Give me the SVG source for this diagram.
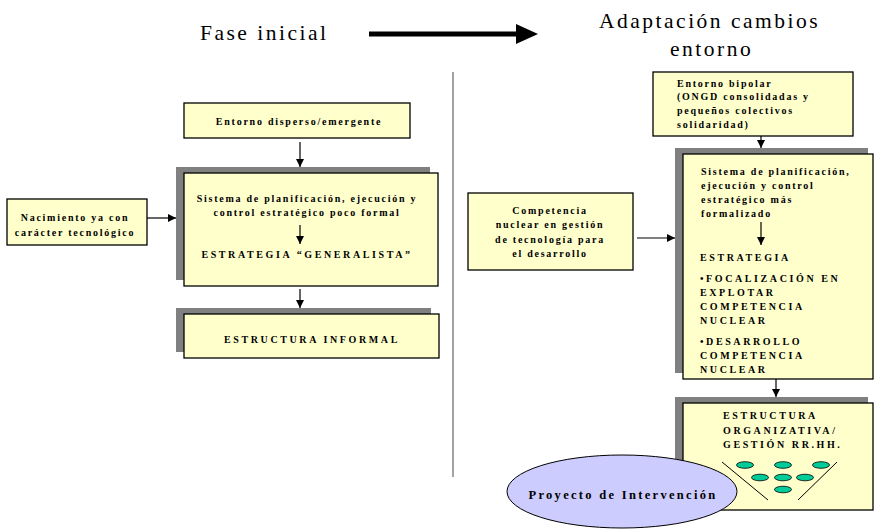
<svg xmlns="http://www.w3.org/2000/svg" width="874" height="529" viewBox="0 0 874 529">
<defs>
<style>
.box{fill:#ffffcc;stroke:#000;stroke-width:1.3}
.sh{fill:#808080}
.c{stroke:#000;stroke-width:1.2;fill:none}
.t{font-family:"Liberation Serif","Times New Roman",serif;font-weight:bold;font-size:10px;fill:#000;letter-spacing:1.75px}
.cap{letter-spacing:2.6px}
.m{text-anchor:middle}
.title{font-family:"Liberation Serif","Times New Roman",serif;font-size:21.5px;fill:#000;letter-spacing:2.5px}
.g{fill:#00cc99;stroke:#000;stroke-width:0.8}
</style>
<marker id="ah" viewBox="0 0 10 10" refX="10" refY="5" markerWidth="8" markerHeight="8" markerUnits="userSpaceOnUse" orient="auto">
<path d="M0,0 L10,5 L0,10 z" fill="#000"/>
</marker>
</defs>

<g id="titles">
<text class="title" x="200" y="40">Fase inicial</text>
<text class="title" x="599" y="28">Adaptación cambios</text>
<text class="title" x="670" y="56">entorno</text>
<line x1="369" y1="34" x2="517" y2="34" stroke="#000" stroke-width="5"/>
<polygon points="516,24 538,34 516,44" fill="#000"/>
<line x1="453" y1="72" x2="453" y2="477" stroke="#666" stroke-width="1.2"/>
</g>

<g id="entorno-disperso">
<rect class="box" x="184" y="103" width="226" height="35"/>
<text class="t m" x="299" y="125">Entorno disperso/emergente</text>
</g>

<g id="nacimiento">
<rect class="box" x="7" y="199" width="140" height="46"/>
<text class="t m" x="75" y="221">Nacimiento ya con</text>
<text class="t m" x="75" y="236">carácter tecnológico</text>
</g>

<g id="sistema-izq">
<rect class="sh" x="176" y="167" width="254" height="113"/>
<rect class="box" x="184" y="173" width="254" height="113"/>
<text class="t m" x="307" y="202">Sistema de planificación, ejecución y</text>
<text class="t m" x="307" y="216">control estratégico poco formal</text>
<text class="t cap m" x="307" y="258">ESTRATEGIA “GENERALISTA”</text>
</g>

<g id="estructura-informal">
<rect class="sh" x="176" y="308" width="255" height="44"/>
<rect class="box" x="184" y="314" width="255" height="44"/>
<text class="t cap m" x="312" y="343">ESTRUCTURA INFORMAL</text>
</g>

<g id="entorno-bipolar">
<rect class="box" x="653" y="72" width="200" height="64"/>
<text class="t" x="677" y="87">Entorno bipolar</text>
<text class="t" x="677" y="100">(ONGD consolidadas y</text>
<text class="t" x="677" y="114">pequeños colectivos</text>
<text class="t" x="677" y="128">solidaridad)</text>
</g>

<g id="competencia">
<rect class="box" x="468" y="193" width="165" height="77"/>
<text class="t m" x="550" y="214">Competencia</text>
<text class="t m" x="550" y="228">nuclear en gestión</text>
<text class="t m" x="550" y="243">de tecnología para</text>
<text class="t m" x="550" y="257">el desarrollo</text>
</g>

<g id="sistema-der">
<rect class="sh" x="675" y="148" width="193" height="225"/>
<rect class="box" x="683" y="154" width="190" height="225"/>
<text class="t" x="701" y="175">Sistema de planificación,</text>
<text class="t" x="701" y="189">ejecución y control</text>
<text class="t" x="701" y="203">estratégico más</text>
<text class="t" x="701" y="217">formalizado</text>
<text class="t cap" x="700" y="261">ESTRATEGIA</text>
<text class="t cap" x="700" y="282">•FOCALIZACIÓN EN</text>
<text class="t cap" x="700" y="296">EXPLOTAR</text>
<text class="t cap" x="700" y="310">COMPETENCIA</text>
<text class="t cap" x="700" y="324">NUCLEAR</text>
<text class="t cap" x="700" y="345">•DESARROLLO</text>
<text class="t cap" x="700" y="359">COMPETENCIA</text>
<text class="t cap" x="700" y="373">NUCLEAR</text>
</g>

<g id="estructura-organizativa">
<rect class="sh" x="675" y="397" width="193" height="107"/>
<rect class="box" x="683" y="403" width="190" height="107"/>
<text class="t cap" x="723" y="419">ESTRUCTURA</text>
<text class="t cap" x="723" y="434">ORGANIZATIVA/</text>
<text class="t cap" x="723" y="448">GESTIÓN RR.HH.</text>
<line x1="722" y1="462" x2="768" y2="500" stroke="#000" stroke-width="1"/>
<line x1="837" y1="462" x2="798" y2="500" stroke="#000" stroke-width="1"/>
<ellipse class="g" cx="745" cy="465" rx="8.5" ry="3.3"/>
<ellipse class="g" cx="783" cy="465" rx="8.5" ry="3.3"/>
<ellipse class="g" cx="821" cy="465" rx="8.5" ry="3.3"/>
<ellipse class="g" cx="760" cy="477.5" rx="8.5" ry="3.3"/>
<ellipse class="g" cx="783" cy="477.5" rx="8.5" ry="3.3"/>
<ellipse class="g" cx="805" cy="477.5" rx="8.5" ry="3.3"/>
<ellipse class="g" cx="783" cy="489.5" rx="8.5" ry="3.3"/>
</g>

<g id="proyecto">
<ellipse cx="622" cy="491.5" rx="115" ry="36.5" fill="#ccccff" stroke="#000" stroke-width="1"/>
<text class="t m" x="623" y="499" style="font-size:12.5px;letter-spacing:2.3px">Proyecto de Intervención</text>
</g>

<g id="connectors">
<line class="c" x1="300" y1="142" x2="300" y2="167" marker-end="url(#ah)"/>
<line class="c" x1="300" y1="225" x2="300" y2="244" marker-end="url(#ah)"/>
<line class="c" x1="300" y1="289" x2="300" y2="308" marker-end="url(#ah)"/>
<line class="c" x1="147" y1="218" x2="176" y2="218" marker-end="url(#ah)"/>
<line class="c" x1="761" y1="136" x2="761" y2="148" marker-end="url(#ah)"/>
<line class="c" x1="637" y1="238" x2="675" y2="238" marker-end="url(#ah)"/>
<line class="c" x1="761" y1="222" x2="761" y2="245" marker-end="url(#ah)"/>
<line class="c" x1="776" y1="379" x2="776" y2="397" marker-end="url(#ah)"/>
</g>
</svg>
